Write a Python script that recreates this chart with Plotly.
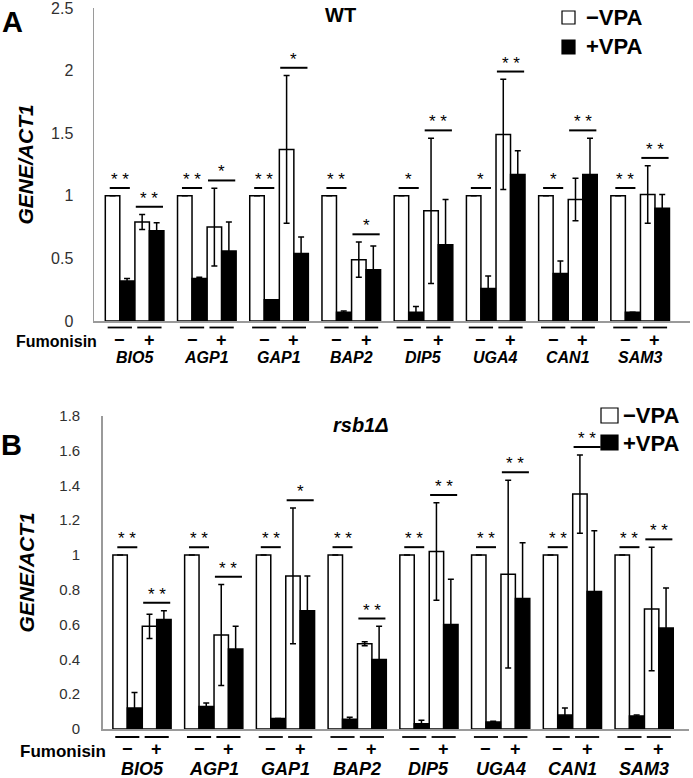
import plotly.graph_objects as go

# ---------------- data ----------------
genes = ["BIO5", "AGP1", "GAP1", "BAP2", "DIP5", "UGA4", "CAN1", "SAM3"]
fumonisin_ticks = ["\u2212", "+"]
series_names = ["\u2212VPA", "+VPA"]

# Panel A : WT
wt_fumneg_noVPA = [1.0, 1.0, 1.0, 1.0, 1.0, 1.0, 1.0, 1.0]
wt_fumneg_noVPA_err = [0, 0, 0, 0, 0, 0, 0, 0]
wt_fumneg_VPA = [0.32, 0.34, 0.17, 0.07, 0.07, 0.26, 0.38, 0.07]
wt_fumneg_VPA_err = [0.02, 0.01, 0.0, 0.01, 0.045, 0.10, 0.10, 0.0]
wt_fumpos_noVPA = [0.79, 0.75, 1.37, 0.49, 0.88, 1.49, 0.97, 1.01]
wt_fumpos_noVPA_err = [0.06, 0.31, 0.59, 0.14, 0.58, 0.44, 0.17, 0.23]
wt_fumpos_VPA = [0.72, 0.56, 0.54, 0.41, 0.61, 1.17, 1.17, 0.90]
wt_fumpos_VPA_err = [0.065, 0.23, 0.13, 0.19, 0.36, 0.19, 0.29, 0.11]
wt_sig_fumneg = ["**", "**", "**", "**", "*", "*", "*", "**"]
wt_sig_fumpos = ["**", "*", "*", "*", "**", "**", "**", "**"]

# Panel B : rsb1Δ
rsb_fumneg_noVPA = [1.0, 1.0, 1.0, 1.0, 1.0, 1.0, 1.0, 1.0]
rsb_fumneg_noVPA_err = [0, 0, 0, 0, 0, 0, 0, 0]
rsb_fumneg_VPA = [0.12, 0.13, 0.06, 0.056, 0.03, 0.04, 0.08, 0.075]
rsb_fumneg_VPA_err = [0.09, 0.02, 0.0, 0.012, 0.02, 0.005, 0.04, 0.005]
rsb_fumpos_noVPA = [0.59, 0.54, 0.88, 0.49, 1.02, 0.89, 1.35, 0.69]
rsb_fumpos_noVPA_err = [0.07, 0.29, 0.39, 0.012, 0.28, 0.54, 0.225, 0.355]
rsb_fumpos_VPA = [0.63, 0.46, 0.68, 0.40, 0.60, 0.75, 0.79, 0.58]
rsb_fumpos_VPA_err = [0.05, 0.13, 0.20, 0.19, 0.26, 0.32, 0.35, 0.23]
rsb_sig_fumneg = ["**", "**", "**", "**", "**", "**", "**", "**"]
rsb_sig_fumpos = ["**", "**", "*", "**", "**", "**", "**", "**"]

# ---------------- layout helpers ----------------
W, H = 693, 778
FONT = "Arial, Liberation Sans, Helvetica, sans-serif"


def fx(px):
    return px / W


def fy(py):
    return 1 - py / H


GROUP_STEP = 2.44   # distance between genes, in units of one (fumonisin) pair
BAR_W = 0.49

fig = go.Figure()
shapes = []
annotations = []

panels = [
    dict(xa="x", ya="y", xkey="xaxis", ykey="yaxis",
         dom_x=(94, 690), dom_y=(321, 8), unit=29.6, first=119.8,
         ymax=2.5, dtick=0.5, tickfont=16, standoff=16,
         data=[(wt_fumneg_noVPA, wt_fumneg_noVPA_err, wt_fumpos_noVPA, wt_fumpos_noVPA_err),
               (wt_fumneg_VPA, wt_fumneg_VPA_err, wt_fumpos_VPA, wt_fumpos_VPA_err)],
         sig=(wt_sig_fumneg, wt_sig_fumpos),
         letter="A", letter_xy=(12, 22), title="WT", title_italic=False, title_xy=(340, 15),
         legend_box=(562, 575, [(11, 24), (40, 54)]), legend_text_x=584, legend_text_y=[17, 47],
         legend_size=22,
         underline_y=327.5, pm_y=340, pm_size=18, gene_y=357, gene_size=16,
         fum_xy=(99, 341), fum_size=16, ytitle_x=25),
    dict(xa="x2", ya="y2", xkey="xaxis2", ykey="yaxis2",
         dom_x=(102.7, 689), dom_y=(729, 415.8), unit=29.4, first=127.3,
         ymax=1.8, dtick=0.2, tickfont=15, standoff=18,
         data=[(rsb_fumneg_noVPA, rsb_fumneg_noVPA_err, rsb_fumpos_noVPA, rsb_fumpos_noVPA_err),
               (rsb_fumneg_VPA, rsb_fumneg_VPA_err, rsb_fumpos_VPA, rsb_fumpos_VPA_err)],
         sig=(rsb_sig_fumneg, rsb_sig_fumpos),
         letter="B", letter_xy=(11, 445), title="rsb1\u0394", title_italic=True, title_xy=(361, 425),
         legend_box=(601, 618, [(408, 423), (435, 450)]), legend_text_x=621, legend_text_y=[415, 443],
         legend_size=22,
         underline_y=737, pm_y=749, pm_size=18, gene_y=769, gene_size=18,
         fum_xy=(108, 751), fum_size=17, ytitle_x=26),
]

fills = ["white", "black"]
offsets = [-BAR_W, 0.0]

for p_i, p in enumerate(panels):
    xs = [g * GROUP_STEP + f for g in range(len(genes)) for f in range(2)]
    # bars
    for s in range(2):
        neg_v, neg_e, pos_v, pos_e = p["data"][s]
        yv, ye = [], []
        for g in range(len(genes)):
            yv += [neg_v[g], pos_v[g]]
            ye += [neg_e[g], pos_e[g]]
        fig.add_trace(go.Bar(
            x=xs, y=yv, xaxis=p["xa"], yaxis=p["ya"], name=series_names[s],
            offset=offsets[s], width=BAR_W, showlegend=False,
            marker=dict(color=fills[s], line=dict(color="black", width=1.5)),
            error_y=dict(type="data", array=ye, visible=True, color="black",
                         thickness=1.5, width=3),
        ))

    x0 = -(p["first"] - p["dom_x"][0]) / p["unit"]
    x1 = (p["dom_x"][1] - p["first"]) / p["unit"]
    fig.update_layout(**{
        p["xkey"]: dict(domain=[fx(p["dom_x"][0]), fx(p["dom_x"][1])], range=[x0, x1],
                        anchor=p["ya"], showgrid=False, zeroline=False, showticklabels=False,
                        automargin=False,
                        ticks="", showline=True, linecolor="#9a9a9a", linewidth=1.5),
        p["ykey"]: dict(domain=[fy(p["dom_y"][0]), fy(p["dom_y"][1])], range=[0, p["ymax"]],
                        anchor=p["xa"], dtick=p["dtick"], tick0=0, showgrid=False, zeroline=False,
                        automargin=False, ticklabeloverflow="allow",
                        showline=True, linecolor="#9a9a9a", linewidth=1.5,
                        ticks="outside", ticklen=p["standoff"], tickcolor="rgba(0,0,0,0)",
                        tickfont=dict(family=FONT, size=p["tickfont"], color="#303030")),
    })

    xref, yref = p["xa"], p["ya"]
    pad = 0.025 * p["ymax"]
    for g, gene in enumerate(genes):
        for f in range(2):
            cx = g * GROUP_STEP + f
            # underline under each fumonisin pair
            shapes.append(dict(type="line", xref=xref, yref="paper",
                               x0=cx - 0.41, x1=cx + 0.41,
                               y0=fy(p["underline_y"]), y1=fy(p["underline_y"]),
                               line=dict(color="black", width=1.8)))
            # fumonisin -/+ label
            annotations.append(dict(x=cx, y=fy(p["pm_y"]), xref=xref, yref="paper",
                                    text="<b>%s</b>" % fumonisin_ticks[f], showarrow=False,
                                    xanchor="center", yanchor="middle",
                                    font=dict(family=FONT, size=p["pm_size"], color="black")))
            # significance bracket
            top = 0
            for s in range(2):
                neg_v, neg_e, pos_v, pos_e = p["data"][s]
                v, e = (neg_v[g], neg_e[g]) if f == 0 else (pos_v[g], pos_e[g])
                top = max(top, v + e)
            ly = top + pad
            half = 0.34 if f == 0 else 0.46
            shapes.append(dict(type="line", xref=xref, yref=yref,
                               x0=cx - half, x1=cx + half, y0=ly, y1=ly,
                               line=dict(color="black", width=2)))
            star = p["sig"][f][g]
            annotations.append(dict(x=cx, y=ly, xref=xref, yref=yref,
                                    text=star.replace("**", "* *"), showarrow=False,
                                    xanchor="center", yanchor="bottom", yshift=-3,
                                    font=dict(family=FONT, size=17, color="#000000")))
        # gene name
        annotations.append(dict(x=g * GROUP_STEP + 0.5, y=fy(p["gene_y"]), xref=xref, yref="paper",
                                text="<b><i>%s</i></b>" % gene, showarrow=False,
                                xanchor="center", yanchor="middle",
                                font=dict(family=FONT, size=p["gene_size"], color="black")))

    # "Fumonisin"
    annotations.append(dict(x=fx(p["fum_xy"][0]), y=fy(p["fum_xy"][1]), xref="paper", yref="paper",
                            text="<b>Fumonisin</b>", showarrow=False, xanchor="right", yanchor="middle",
                            font=dict(family=FONT, size=p["fum_size"], color="black")))
    # y-axis title
    ymid = (p["dom_y"][0] + p["dom_y"][1]) / 2
    annotations.append(dict(x=fx(p["ytitle_x"]), y=fy(ymid), xref="paper", yref="paper",
                            text="<b><i>GENE/ACT1</i></b>", textangle=-90, showarrow=False,
                            xanchor="center", yanchor="middle",
                            font=dict(family=FONT, size=21, color="black")))
    # panel letter
    annotations.append(dict(x=fx(p["letter_xy"][0]), y=fy(p["letter_xy"][1]), xref="paper", yref="paper",
                            text="<b>%s</b>" % p["letter"], showarrow=False, xanchor="center",
                            yanchor="middle", font=dict(family=FONT, size=29, color="black")))
    # panel title
    t = "<b><i>%s</i></b>" % p["title"] if p["title_italic"] else "<b>%s</b>" % p["title"]
    annotations.append(dict(x=fx(p["title_xy"][0]), y=fy(p["title_xy"][1]), xref="paper", yref="paper",
                            text=t, showarrow=False, xanchor="center", yanchor="middle",
                            font=dict(family=FONT, size=20, color="black")))
    # legend
    bx0, bx1, rows = p["legend_box"]
    for s in range(2):
        ry0, ry1 = rows[s]
        shapes.append(dict(type="rect", xref="paper", yref="paper",
                           x0=fx(bx0), x1=fx(bx1), y0=fy(ry1), y1=fy(ry0),
                           fillcolor=fills[s], line=dict(color="black", width=1.2)))
        annotations.append(dict(x=fx(p["legend_text_x"]), y=fy(p["legend_text_y"][s]),
                                xref="paper", yref="paper", text="<b>%s</b>" % series_names[s],
                                showarrow=False, xanchor="left", yanchor="middle",
                                font=dict(family=FONT, size=p["legend_size"], color="black")))

fig.update_layout(
    width=W, height=H, autosize=False,
    margin=dict(l=0, r=0, t=0, b=0, autoexpand=False),
    paper_bgcolor="white", plot_bgcolor="white",
    barmode="overlay", showlegend=False,
    shapes=shapes, annotations=annotations,
    font=dict(family=FONT),
)

fig.write_html(
    "out.html",
    config={"displayModeBar": False, "staticPlot": True},
    post_script="document.body.style.margin='0px';document.body.style.padding='0px';"
                "document.documentElement.style.overflow='hidden';",
)
